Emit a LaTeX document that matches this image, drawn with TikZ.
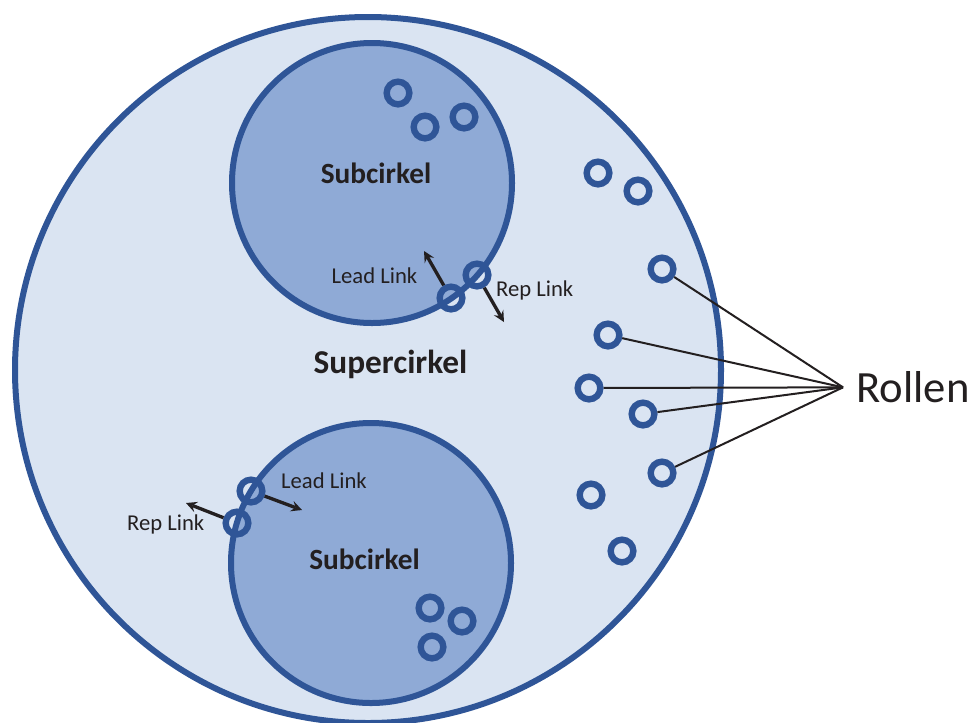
\documentclass[tikz,border=0pt]{standalone}
\usepackage{fontspec}
\setmainfont{Carlito}
\usepackage{tikz}
\usetikzlibrary{arrows,positioning}
\definecolor{hcblue}{RGB}{47,85,151}
\definecolor{hclightblue}{RGB}{218,228,242}
\definecolor{hcmidblue}{RGB}{143,170,214}
\definecolor{hcdark}{RGB}{35,31,32}
\tikzstyle{rolle} = [circle, draw=hcblue, line width=4.8pt, minimum size=17pt, inner sep=0pt]
\tikzstyle{linkarrow} = [line width=2.5pt, ->, >=stealth, color=hcdark]
\tikzstyle{rollenline} = [line width=1.5pt, color=hcdark]
\tikzstyle{linklabel} = [anchor=base, inner sep=0pt, text=hcdark, font=\fontsize{17}{20}\selectfont]
\tikzstyle{cirkellabel} = [anchor=base, inner sep=0pt, text=hcdark, font=\bfseries\fontsize{22}{26}\selectfont]

\begin{document}
\begin{tikzpicture}[x=0.75pt, y=-0.75pt]
\useasboundingbox (0,0) rectangle (973,722);
% Supercirkel
\draw[line width=4.5pt, hcblue, fill=hclightblue] (368,370) circle (353);
\node[cirkellabel, font=\bfseries\fontsize{25}{30}\selectfont] (super) at (390.5,373) {Supercirkel};

% Subcirkels
\draw[line width=4.5pt, hcblue, fill=hcmidblue] (372,183) circle (140);
\draw[line width=4.5pt, hcblue, fill=hcmidblue] (371,563) circle (140);
\node[cirkellabel] (subA) at (376,183) {Subcirkel};
\node[cirkellabel] (subB) at (364.5,569) {Subcirkel};

% Rollen in de cirkels
\foreach \x/\y [count=\i] in {398/93, 425/127, 464/117, 430/608, 462/621, 432/647,
  598/173, 638/191, 662/269, 608/335, 589/388, 643/414, 662/473, 591/495, 622/551}
  \node[rolle] (r\i) at (\x,\y) {};

% Links
\node[rolle] (leadA) at (451,298) {};
\node[rolle] (repA) at (477,275) {};
\node[rolle] (leadB) at (251,491) {};
\node[rolle] (repB) at (237,523) {};
\coordinate (leadAtip) at (424,251);
\coordinate (repAtip) at (504,322);
\coordinate (leadBtip) at (302,510);
\coordinate (repBtip) at (186,503);
\draw[linkarrow] (leadA) -- (leadAtip);
\draw[linkarrow] (repA) -- (repAtip);
\draw[linkarrow] (leadB) -- (leadBtip);
\draw[linkarrow] (repB) -- (repBtip);
\node[linklabel] (leadAlabel) at (374.5,283.3) {Lead Link};
\node[linklabel] (repAlabel) at (534.7,296) {Rep Link};
\node[linklabel] (leadBlabel) at (324,488.3) {Lead Link};
\node[linklabel] (repBlabel) at (165.7,530) {Rep Link};

% Rollen
\node[anchor=base west, inner xsep=10pt, inner ysep=0pt, text=hcdark,
  font=\fontsize{33.5}{40}\selectfont] (rollen) at (843,402.7) {Rollen};
\foreach \i in {9,10,11,12,13}
  \draw[rollenline] (r\i) -- (rollen.west);
\end{tikzpicture}
\end{document}
